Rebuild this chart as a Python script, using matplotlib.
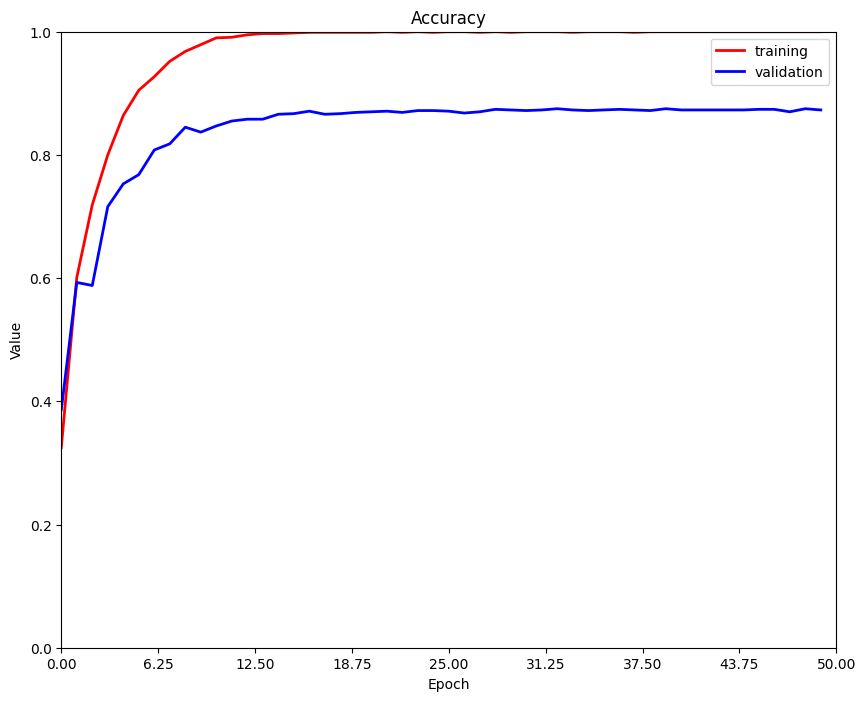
import numpy as np
import matplotlib
matplotlib.use("Agg")
import matplotlib.pyplot as plt

# accuracy per epoch
epochs = list(range(50))
training = [0.325, 0.601, 0.719, 0.800, 0.864, 0.905, 0.927, 0.952, 0.968, 0.979,
            0.990, 0.991, 0.995, 0.997, 0.997, 0.998, 0.999, 0.999, 0.999, 0.999,
            0.999, 1.000, 0.999, 1.000, 0.999, 1.000, 1.000, 0.999, 1.000, 0.999,
            1.000, 1.000, 1.000, 0.999, 1.000, 1.000, 1.000, 0.999, 1.000, 1.000,
            1.000, 1.000, 1.000, 1.000, 1.000, 1.000, 1.000, 1.000, 1.000, 1.000]
validation = [0.386, 0.593, 0.588, 0.716, 0.753, 0.768, 0.808, 0.818, 0.845, 0.837,
              0.847, 0.855, 0.858, 0.858, 0.866, 0.867, 0.871, 0.866, 0.867, 0.869,
              0.870, 0.871, 0.869, 0.872, 0.872, 0.871, 0.868, 0.870, 0.874, 0.873,
              0.872, 0.873, 0.875, 0.873, 0.872, 0.873, 0.874, 0.873, 0.872, 0.875,
              0.873, 0.873, 0.873, 0.873, 0.873, 0.874, 0.874, 0.870, 0.875, 0.873]
xticks = np.linspace(0, 50, 9)

fig, ax = plt.subplots(figsize=(10, 8), dpi=100)
ax.plot(epochs, training, color="red", lw=2, label="training")
ax.plot(epochs, validation, color="blue", lw=2, label="validation")

ax.set_xlim(0, 50)
ax.set_ylim(0, 1)
ax.set_xticks(xticks)
ax.set_xticklabels(["%.2f" % t for t in xticks])
ax.set_xlabel("Epoch")
ax.set_ylabel("Value")
ax.set_title("Accuracy")
ax.legend(loc="upper right")

fig.savefig("out.png", dpi=100, bbox_inches="tight")
